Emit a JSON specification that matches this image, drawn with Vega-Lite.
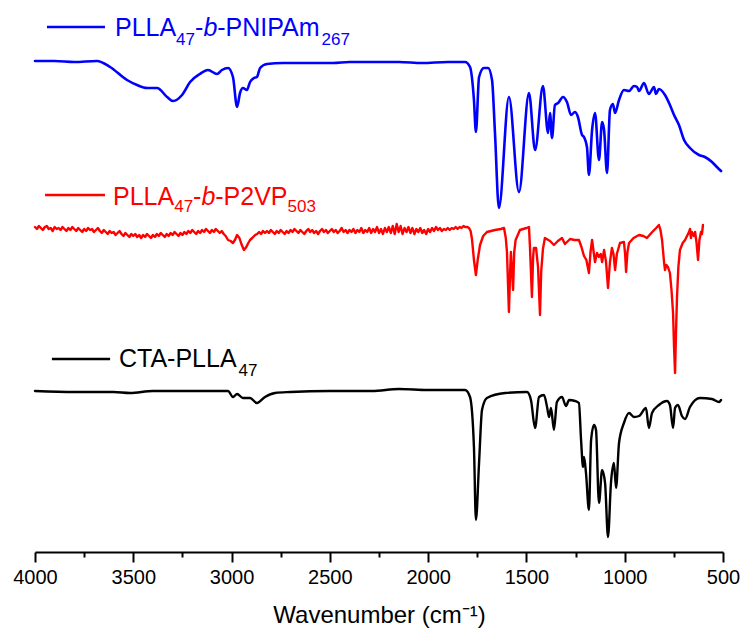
{
  "$schema": "https://vega.github.io/schema/vega-lite/v6.json",
  "width": 688,
  "height": 552,
  "autosize": {"type": "none"},
  "padding": {"left": 35, "right": 21, "top": 0, "bottom": 85},
  "config": {"view": {"stroke": null}, "font": "Liberation Sans"},
  "datasets": {
    "spectra": [
      {"s":"blue","w":4000,"v":491},{"s":"blue","w":3900,"v":491},{"s":"blue","w":3800,"v":490},{"s":"blue","w":3685,"v":491},{"s":"blue","w":3618,"v":485},{"s":"blue","w":3532,"v":472},{"s":"blue","w":3481,"v":467},{"s":"blue","w":3430,"v":464},{"s":"blue","w":3379,"v":464},{"s":"blue","w":3328,"v":455},{"s":"blue","w":3298,"v":451},{"s":"blue","w":3252,"v":457},{"s":"blue","w":3211,"v":470},{"s":"blue","w":3161,"v":478},{"s":"blue","w":3120,"v":482},{"s":"blue","w":3074,"v":478},{"s":"blue","w":3049,"v":482},{"s":"blue","w":3018,"v":484},{"s":"blue","w":2993,"v":475},{"s":"blue","w":2972,"v":445},{"s":"blue","w":2957,"v":459},{"s":"blue","w":2942,"v":464},{"s":"blue","w":2922,"v":462},{"s":"blue","w":2906,"v":470},{"s":"blue","w":2886,"v":474},{"s":"blue","w":2871,"v":475},{"s":"blue","w":2855,"v":484},{"s":"blue","w":2820,"v":488},{"s":"blue","w":2738,"v":489},{"s":"blue","w":2600,"v":489},{"s":"blue","w":2484,"v":489},{"s":"blue","w":2400,"v":490},{"s":"blue","w":2311,"v":490},{"s":"blue","w":2200,"v":490},{"s":"blue","w":2148,"v":490},{"s":"blue","w":2031,"v":489},{"s":"blue","w":1900,"v":490},{"s":"blue","w":1812,"v":490},{"s":"blue","w":1787,"v":485},{"s":"blue","w":1767,"v":452},{"s":"blue","w":1757,"v":420},{"s":"blue","w":1741,"v":475},{"s":"blue","w":1716,"v":484},{"s":"blue","w":1695,"v":484},{"s":"blue","w":1675,"v":472},{"s":"blue","w":1660,"v":419},{"s":"blue","w":1640,"v":344},{"s":"blue","w":1589,"v":455},{"s":"blue","w":1538,"v":360},{"s":"blue","w":1487,"v":459},{"s":"blue","w":1456,"v":402},{"s":"blue","w":1416,"v":466},{"s":"blue","w":1390,"v":419},{"s":"blue","w":1380,"v":439},{"s":"blue","w":1370,"v":414},{"s":"blue","w":1355,"v":447},{"s":"blue","w":1339,"v":449},{"s":"blue","w":1314,"v":455},{"s":"blue","w":1294,"v":450},{"s":"blue","w":1273,"v":437},{"s":"blue","w":1253,"v":440},{"s":"blue","w":1238,"v":435},{"s":"blue","w":1217,"v":417},{"s":"blue","w":1207,"v":415},{"s":"blue","w":1192,"v":405},{"s":"blue","w":1182,"v":377},{"s":"blue","w":1166,"v":422},{"s":"blue","w":1151,"v":439},{"s":"blue","w":1131,"v":392},{"s":"blue","w":1115,"v":430},{"s":"blue","w":1105,"v":422},{"s":"blue","w":1090,"v":379},{"s":"blue","w":1075,"v":442},{"s":"blue","w":1060,"v":448},{"s":"blue","w":1049,"v":439},{"s":"blue","w":1029,"v":452},{"s":"blue","w":1004,"v":462},{"s":"blue","w":978,"v":461},{"s":"blue","w":953,"v":466},{"s":"blue","w":937,"v":465},{"s":"blue","w":927,"v":461},{"s":"blue","w":902,"v":469},{"s":"blue","w":877,"v":458},{"s":"blue","w":851,"v":465},{"s":"blue","w":841,"v":458},{"s":"blue","w":826,"v":463},{"s":"blue","w":795,"v":457},{"s":"blue","w":770,"v":447},{"s":"blue","w":749,"v":437},{"s":"blue","w":724,"v":427},{"s":"blue","w":698,"v":412},{"s":"blue","w":668,"v":404},{"s":"blue","w":622,"v":397},{"s":"blue","w":592,"v":395},{"s":"blue","w":556,"v":390},{"s":"blue","w":531,"v":385},{"s":"blue","w":510,"v":381},

      {"s":"black","w":4000,"v":161},{"s":"black","w":3800,"v":160},{"s":"black","w":3600,"v":160},{"s":"black","w":3517,"v":159},{"s":"black","w":3400,"v":161},{"s":"black","w":3161,"v":161},{"s":"black","w":3018,"v":161},{"s":"black","w":2993,"v":155},{"s":"black","w":2972,"v":158},{"s":"black","w":2942,"v":154},{"s":"black","w":2906,"v":154},{"s":"black","w":2871,"v":149},{"s":"black","w":2830,"v":155},{"s":"black","w":2779,"v":159},{"s":"black","w":2700,"v":160},{"s":"black","w":2500,"v":161},{"s":"black","w":2286,"v":161},{"s":"black","w":2148,"v":163},{"s":"black","w":2000,"v":162},{"s":"black","w":1812,"v":162},{"s":"black","w":1787,"v":155},{"s":"black","w":1767,"v":105},{"s":"black","w":1757,"v":32},{"s":"black","w":1741,"v":89},{"s":"black","w":1726,"v":142},{"s":"black","w":1701,"v":154},{"s":"black","w":1609,"v":159},{"s":"black","w":1497,"v":160},{"s":"black","w":1477,"v":152},{"s":"black","w":1456,"v":124},{"s":"black","w":1436,"v":155},{"s":"black","w":1411,"v":157},{"s":"black","w":1395,"v":145},{"s":"black","w":1385,"v":135},{"s":"black","w":1375,"v":144},{"s":"black","w":1360,"v":122},{"s":"black","w":1345,"v":150},{"s":"black","w":1319,"v":155},{"s":"black","w":1299,"v":146},{"s":"black","w":1283,"v":152},{"s":"black","w":1253,"v":151},{"s":"black","w":1233,"v":149},{"s":"black","w":1222,"v":112},{"s":"black","w":1212,"v":85},{"s":"black","w":1207,"v":95},{"s":"black","w":1197,"v":79},{"s":"black","w":1182,"v":42},{"s":"black","w":1171,"v":112},{"s":"black","w":1156,"v":127},{"s":"black","w":1146,"v":122},{"s":"black","w":1131,"v":49},{"s":"black","w":1115,"v":82},{"s":"black","w":1100,"v":69},{"s":"black","w":1085,"v":15},{"s":"black","w":1070,"v":69},{"s":"black","w":1055,"v":89},{"s":"black","w":1044,"v":64},{"s":"black","w":1029,"v":109},{"s":"black","w":1004,"v":129},{"s":"black","w":978,"v":139},{"s":"black","w":953,"v":135},{"s":"black","w":927,"v":136},{"s":"black","w":892,"v":144},{"s":"black","w":877,"v":124},{"s":"black","w":861,"v":139},{"s":"black","w":826,"v":147},{"s":"black","w":785,"v":151},{"s":"black","w":770,"v":147},{"s":"black","w":754,"v":124},{"s":"black","w":744,"v":144},{"s":"black","w":729,"v":147},{"s":"black","w":709,"v":136},{"s":"black","w":693,"v":133},{"s":"black","w":668,"v":145},{"s":"black","w":617,"v":154},{"s":"black","w":556,"v":153},{"s":"black","w":520,"v":150},{"s":"black","w":510,"v":152}
    ],
    "red": [
      {"s":"red","w":4000,"v":325},{"s":"red","w":3990,"v":323},{"s":"red","w":3980,"v":326},{"s":"red","w":3970,"v":324},{"s":"red","w":3960,"v":322},{"s":"red","w":3950,"v":325},{"s":"red","w":3940,"v":326},{"s":"red","w":3930,"v":323},{"s":"red","w":3920,"v":324},{"s":"red","w":3910,"v":321},{"s":"red","w":3900,"v":325},{"s":"red","w":3890,"v":323},{"s":"red","w":3880,"v":324},{"s":"red","w":3870,"v":322},{"s":"red","w":3860,"v":325},{"s":"red","w":3850,"v":323},{"s":"red","w":3840,"v":321},{"s":"red","w":3830,"v":324},{"s":"red","w":3820,"v":322},{"s":"red","w":3810,"v":325},{"s":"red","w":3800,"v":323},{"s":"red","w":3790,"v":321},{"s":"red","w":3780,"v":324},{"s":"red","w":3770,"v":322},{"s":"red","w":3760,"v":320},{"s":"red","w":3750,"v":323},{"s":"red","w":3740,"v":321},{"s":"red","w":3730,"v":324},{"s":"red","w":3720,"v":322},{"s":"red","w":3710,"v":323},{"s":"red","w":3700,"v":320},{"s":"red","w":3690,"v":322},{"s":"red","w":3680,"v":324},{"s":"red","w":3670,"v":321},{"s":"red","w":3660,"v":319},{"s":"red","w":3650,"v":322},{"s":"red","w":3640,"v":320},{"s":"red","w":3630,"v":318},{"s":"red","w":3620,"v":321},{"s":"red","w":3610,"v":319},{"s":"red","w":3600,"v":320},{"s":"red","w":3590,"v":317},{"s":"red","w":3580,"v":319},{"s":"red","w":3570,"v":321},{"s":"red","w":3560,"v":318},{"s":"red","w":3550,"v":316},{"s":"red","w":3540,"v":319},{"s":"red","w":3530,"v":317},{"s":"red","w":3520,"v":315},{"s":"red","w":3510,"v":318},{"s":"red","w":3500,"v":316},{"s":"red","w":3490,"v":318},{"s":"red","w":3480,"v":315},{"s":"red","w":3470,"v":317},{"s":"red","w":3460,"v":314},{"s":"red","w":3450,"v":317},{"s":"red","w":3440,"v":315},{"s":"red","w":3430,"v":318},{"s":"red","w":3420,"v":316},{"s":"red","w":3410,"v":314},{"s":"red","w":3400,"v":317},{"s":"red","w":3390,"v":315},{"s":"red","w":3380,"v":318},{"s":"red","w":3370,"v":316},{"s":"red","w":3360,"v":319},{"s":"red","w":3350,"v":317},{"s":"red","w":3340,"v":315},{"s":"red","w":3330,"v":318},{"s":"red","w":3320,"v":316},{"s":"red","w":3310,"v":319},{"s":"red","w":3300,"v":317},{"s":"red","w":3290,"v":320},{"s":"red","w":3280,"v":318},{"s":"red","w":3270,"v":316},{"s":"red","w":3260,"v":319},{"s":"red","w":3250,"v":317},{"s":"red","w":3240,"v":320},{"s":"red","w":3230,"v":318},{"s":"red","w":3220,"v":321},{"s":"red","w":3210,"v":319},{"s":"red","w":3200,"v":322},{"s":"red","w":3190,"v":320},{"s":"red","w":3180,"v":318},{"s":"red","w":3170,"v":321},{"s":"red","w":3160,"v":319},{"s":"red","w":3150,"v":322},{"s":"red","w":3140,"v":320},{"s":"red","w":3130,"v":323},{"s":"red","w":3120,"v":321},{"s":"red","w":3110,"v":319},{"s":"red","w":3100,"v":322},{"s":"red","w":3090,"v":320},{"s":"red","w":3080,"v":323},{"s":"red","w":3070,"v":321},{"s":"red","w":3060,"v":319},{"s":"red","w":3050,"v":321},{"s":"red","w":3040,"v":318},{"s":"red","w":3030,"v":316},{"s":"red","w":3018,"v":312},{"s":"red","w":3005,"v":311},{"s":"red","w":2993,"v":309},{"s":"red","w":2983,"v":312},{"s":"red","w":2972,"v":317},{"s":"red","w":2960,"v":314},{"s":"red","w":2950,"v":308},{"s":"red","w":2937,"v":302},{"s":"red","w":2925,"v":305},{"s":"red","w":2915,"v":309},{"s":"red","w":2906,"v":312},{"s":"red","w":2895,"v":314},{"s":"red","w":2880,"v":317},{"s":"red","w":2870,"v":318},{"s":"red","w":2860,"v":320},{"s":"red","w":2850,"v":318},{"s":"red","w":2840,"v":321},{"s":"red","w":2830,"v":319},{"s":"red","w":2820,"v":321},{"s":"red","w":2810,"v":319},{"s":"red","w":2800,"v":322},{"s":"red","w":2790,"v":320},{"s":"red","w":2780,"v":318},{"s":"red","w":2770,"v":321},{"s":"red","w":2760,"v":319},{"s":"red","w":2750,"v":322},{"s":"red","w":2740,"v":320},{"s":"red","w":2730,"v":318},{"s":"red","w":2720,"v":321},{"s":"red","w":2710,"v":319},{"s":"red","w":2700,"v":322},{"s":"red","w":2690,"v":320},{"s":"red","w":2680,"v":323},{"s":"red","w":2670,"v":321},{"s":"red","w":2660,"v":319},{"s":"red","w":2650,"v":322},{"s":"red","w":2640,"v":320},{"s":"red","w":2630,"v":318},{"s":"red","w":2620,"v":321},{"s":"red","w":2610,"v":323},{"s":"red","w":2600,"v":320},{"s":"red","w":2590,"v":322},{"s":"red","w":2580,"v":319},{"s":"red","w":2570,"v":321},{"s":"red","w":2560,"v":318},{"s":"red","w":2550,"v":321},{"s":"red","w":2540,"v":323},{"s":"red","w":2530,"v":320},{"s":"red","w":2520,"v":322},{"s":"red","w":2510,"v":319},{"s":"red","w":2500,"v":321},{"s":"red","w":2490,"v":323},{"s":"red","w":2480,"v":320},{"s":"red","w":2470,"v":322},{"s":"red","w":2460,"v":319},{"s":"red","w":2450,"v":321},{"s":"red","w":2440,"v":324},{"s":"red","w":2430,"v":320},{"s":"red","w":2420,"v":322},{"s":"red","w":2410,"v":319},{"s":"red","w":2400,"v":322},{"s":"red","w":2390,"v":320},{"s":"red","w":2380,"v":323},{"s":"red","w":2370,"v":319},{"s":"red","w":2360,"v":322},{"s":"red","w":2350,"v":320},{"s":"red","w":2340,"v":324},{"s":"red","w":2330,"v":319},{"s":"red","w":2320,"v":322},{"s":"red","w":2310,"v":320},{"s":"red","w":2300,"v":324},{"s":"red","w":2290,"v":319},{"s":"red","w":2280,"v":323},{"s":"red","w":2270,"v":320},{"s":"red","w":2260,"v":325},{"s":"red","w":2250,"v":319},{"s":"red","w":2240,"v":323},{"s":"red","w":2230,"v":318},{"s":"red","w":2220,"v":324},{"s":"red","w":2210,"v":320},{"s":"red","w":2200,"v":325},{"s":"red","w":2190,"v":319},{"s":"red","w":2180,"v":326},{"s":"red","w":2170,"v":318},{"s":"red","w":2160,"v":328},{"s":"red","w":2150,"v":320},{"s":"red","w":2140,"v":326},{"s":"red","w":2130,"v":318},{"s":"red","w":2120,"v":324},{"s":"red","w":2110,"v":320},{"s":"red","w":2100,"v":325},{"s":"red","w":2090,"v":319},{"s":"red","w":2080,"v":324},{"s":"red","w":2070,"v":318},{"s":"red","w":2060,"v":323},{"s":"red","w":2050,"v":320},{"s":"red","w":2040,"v":324},{"s":"red","w":2030,"v":319},{"s":"red","w":2020,"v":322},{"s":"red","w":2010,"v":318},{"s":"red","w":2000,"v":323},{"s":"red","w":1990,"v":320},{"s":"red","w":1980,"v":324},{"s":"red","w":1970,"v":321},{"s":"red","w":1960,"v":325},{"s":"red","w":1950,"v":322},{"s":"red","w":1940,"v":324},{"s":"red","w":1930,"v":321},{"s":"red","w":1920,"v":323},{"s":"red","w":1910,"v":322},{"s":"red","w":1900,"v":324},{"s":"red","w":1890,"v":322},{"s":"red","w":1880,"v":324},{"s":"red","w":1870,"v":323},{"s":"red","w":1860,"v":325},{"s":"red","w":1850,"v":323},{"s":"red","w":1840,"v":325},{"s":"red","w":1830,"v":324},{"s":"red","w":1820,"v":326},{"s":"red","w":1812,"v":325},{"s":"red","w":1800,"v":325},{"s":"red","w":1792,"v":324},{"s":"red","w":1784,"v":321},{"s":"red","w":1777,"v":313},{"s":"red","w":1767,"v":292},{"s":"red","w":1757,"v":277},{"s":"red","w":1748,"v":292},{"s":"red","w":1736,"v":307},{"s":"red","w":1720,"v":316},{"s":"red","w":1701,"v":320},{"s":"red","w":1660,"v":322},{"s":"red","w":1630,"v":323},{"s":"red","w":1614,"v":324},{"s":"red","w":1605,"v":314},{"s":"red","w":1599,"v":300},{"s":"red","w":1589,"v":240},{"s":"red","w":1583,"v":280},{"s":"red","w":1579,"v":300},{"s":"red","w":1568,"v":262},{"s":"red","w":1562,"v":300},{"s":"red","w":1555,"v":312},{"s":"red","w":1533,"v":322},{"s":"red","w":1500,"v":324},{"s":"red","w":1487,"v":325},{"s":"red","w":1482,"v":305},{"s":"red","w":1472,"v":255},{"s":"red","w":1466,"v":295},{"s":"red","w":1462,"v":304},{"s":"red","w":1451,"v":304},{"s":"red","w":1441,"v":285},{"s":"red","w":1431,"v":237},{"s":"red","w":1425,"v":280},{"s":"red","w":1416,"v":303},{"s":"red","w":1406,"v":314},{"s":"red","w":1380,"v":311},{"s":"red","w":1360,"v":307},{"s":"red","w":1340,"v":311},{"s":"red","w":1319,"v":314},{"s":"red","w":1304,"v":308},{"s":"red","w":1278,"v":313},{"s":"red","w":1255,"v":312},{"s":"red","w":1233,"v":312},{"s":"red","w":1220,"v":305},{"s":"red","w":1207,"v":296},{"s":"red","w":1195,"v":292},{"s":"red","w":1182,"v":279},{"s":"red","w":1174,"v":300},{"s":"red","w":1166,"v":312},{"s":"red","w":1158,"v":300},{"s":"red","w":1151,"v":290},{"s":"red","w":1141,"v":299},{"s":"red","w":1131,"v":295},{"s":"red","w":1122,"v":298},{"s":"red","w":1115,"v":290},{"s":"red","w":1105,"v":302},{"s":"red","w":1095,"v":290},{"s":"red","w":1085,"v":264},{"s":"red","w":1075,"v":290},{"s":"red","w":1065,"v":304},{"s":"red","w":1057,"v":298},{"s":"red","w":1049,"v":282},{"s":"red","w":1040,"v":298},{"s":"red","w":1024,"v":309},{"s":"red","w":1004,"v":310},{"s":"red","w":998,"v":298},{"s":"red","w":993,"v":280},{"s":"red","w":986,"v":300},{"s":"red","w":978,"v":309},{"s":"red","w":955,"v":314},{"s":"red","w":927,"v":317},{"s":"red","w":905,"v":316},{"s":"red","w":887,"v":314},{"s":"red","w":860,"v":320},{"s":"red","w":840,"v":324},{"s":"red","w":826,"v":327},{"s":"red","w":818,"v":322},{"s":"red","w":810,"v":312},{"s":"red","w":800,"v":290},{"s":"red","w":795,"v":282},{"s":"red","w":788,"v":287},{"s":"red","w":780,"v":285},{"s":"red","w":770,"v":279},{"s":"red","w":762,"v":262},{"s":"red","w":754,"v":239},{"s":"red","w":749,"v":205},{"s":"red","w":744,"v":179},{"s":"red","w":739,"v":220},{"s":"red","w":734,"v":255},{"s":"red","w":727,"v":285},{"s":"red","w":719,"v":302},{"s":"red","w":705,"v":309},{"s":"red","w":693,"v":312},{"s":"red","w":683,"v":316},{"s":"red","w":673,"v":320},{"s":"red","w":668,"v":323},{"s":"red","w":663,"v":314},{"s":"red","w":658,"v":320},{"s":"red","w":648,"v":316},{"s":"red","w":642,"v":320},{"s":"red","w":635,"v":310},{"s":"red","w":627,"v":292},{"s":"red","w":620,"v":312},{"s":"red","w":612,"v":320},{"s":"red","w":607,"v":318},{"s":"red","w":602,"v":327}
    ],
    "keys": [
      {"s":"blue","x1":3939,"x2":3644,"y":525},
      {"s":"red","x1":3949,"x2":3644,"y":357},
      {"s":"black","x1":3914,"x2":3618,"y":193}
    ],
    "labels": [
      {"s":"blue","k":"n","x":3593,"y":516,"t":"PLLA"},
      {"s":"blue","k":"sub","x":3283,"y":507,"t":"47"},
      {"s":"blue","k":"n","x":3186,"y":516,"t":"-"},
      {"s":"blue","k":"i","x":3143,"y":516,"t":"b"},
      {"s":"blue","k":"n","x":3073,"y":516,"t":"-PNIPAm"},
      {"s":"blue","k":"sub","x":2542,"y":507,"t":"267"},
      {"s":"red","k":"n","x":3603,"y":347,"t":"PLLA"},
      {"s":"red","k":"sub","x":3292,"y":340,"t":"47"},
      {"s":"red","k":"n","x":3196,"y":347,"t":"-"},
      {"s":"red","k":"i","x":3153,"y":347,"t":"b"},
      {"s":"red","k":"n","x":3083,"y":347,"t":"-P2VP"},
      {"s":"red","k":"sub","x":2715,"y":340,"t":"503"},
      {"s":"black","k":"n","x":3573,"y":185,"t":"CTA-PLLA"},
      {"s":"black","k":"sub","x":2965,"y":176,"t":"47"}
    ]
  },
  "layer": [
    {
      "data": {"name": "spectra"},
      "mark": {"type": "line", "strokeJoin": "round", "strokeCap": "round", "interpolate": "monotone"},
      "encoding": {
        "x": {
          "field": "w", "type": "quantitative",
          "scale": {"domain": [500, 4000], "reverse": true, "nice": false, "zero": false},
          "axis": {
            "title": "Wavenumber (cm⁻¹)",
            "values": [500, 750, 1000, 1250, 1500, 1750, 2000, 2250, 2500, 2750, 3000, 3250, 3500, 3750, 4000],
            "format": "d",
            "labelExpr": "datum.value % 500 === 0 ? datum.label : ''",
            "tickSize": {"condition": {"test": "datum.value % 500 === 0", "value": 10}, "value": 5},
            "tickWidth": 2,
            "tickColor": "#000000",
            "domainColor": "#000000",
            "domainWidth": 2,
            "grid": false,
            "labelFont": "Liberation Sans",
            "labelFontSize": 20,
            "labelColor": "#000000",
            "labelPadding": 5,
            "labelFlush": false,
            "labelOverlap": false,
            "titleFont": "Liberation Sans",
            "titleFontSize": 24,
            "titleFontWeight": "normal",
            "titleColor": "#000000",
            "titlePadding": 16
          }
        },
        "y": {"field": "v", "type": "quantitative", "scale": {"domain": [0, 552], "nice": false, "zero": false}, "axis": null},
        "color": {"field": "s", "type": "nominal", "scale": {"domain": ["blue", "red", "black"], "range": ["#0000FF", "#FF0000", "#000000"]}, "legend": null},
        "strokeWidth": {"field": "s", "type": "nominal", "scale": {"domain": ["blue", "red", "black"], "range": [2.6, 2.4, 2.2]}, "legend": null}
      }
    },
    {
      "data": {"name": "red"},
      "mark": {"type": "line", "strokeJoin": "round", "strokeCap": "round", "interpolate": "linear", "strokeWidth": 2.4},
      "encoding": {
        "x": {"field": "w", "type": "quantitative"},
        "y": {"field": "v", "type": "quantitative"},
        "color": {"field": "s", "type": "nominal", "legend": null}
      }
    },
    {
      "data": {"name": "keys"},
      "mark": {"type": "rule", "strokeWidth": 2.5},
      "encoding": {
        "x": {"field": "x1", "type": "quantitative"},
        "x2": {"field": "x2"},
        "y": {"field": "y", "type": "quantitative"},
        "color": {"field": "s", "type": "nominal", "legend": null}
      }
    },
    {
      "data": {"name": "labels"},
      "transform": [{"filter": "datum.k === 'n'"}],
      "mark": {"type": "text", "align": "left", "baseline": "alphabetic", "fontSize": 25, "font": "Liberation Sans"},
      "encoding": {
        "x": {"field": "x", "type": "quantitative"},
        "y": {"field": "y", "type": "quantitative"},
        "text": {"field": "t"},
        "color": {"field": "s", "type": "nominal", "legend": null}
      }
    },
    {
      "data": {"name": "labels"},
      "transform": [{"filter": "datum.k === 'i'"}],
      "mark": {"type": "text", "align": "left", "baseline": "alphabetic", "fontSize": 25, "fontStyle": "italic", "font": "Liberation Sans"},
      "encoding": {
        "x": {"field": "x", "type": "quantitative"},
        "y": {"field": "y", "type": "quantitative"},
        "text": {"field": "t"},
        "color": {"field": "s", "type": "nominal", "legend": null}
      }
    },
    {
      "data": {"name": "labels"},
      "transform": [{"filter": "datum.k === 'sub'"}],
      "mark": {"type": "text", "align": "left", "baseline": "alphabetic", "fontSize": 17, "font": "Liberation Sans"},
      "encoding": {
        "x": {"field": "x", "type": "quantitative"},
        "y": {"field": "y", "type": "quantitative"},
        "text": {"field": "t"},
        "color": {"field": "s", "type": "nominal", "legend": null}
      }
    }
  ]
}
